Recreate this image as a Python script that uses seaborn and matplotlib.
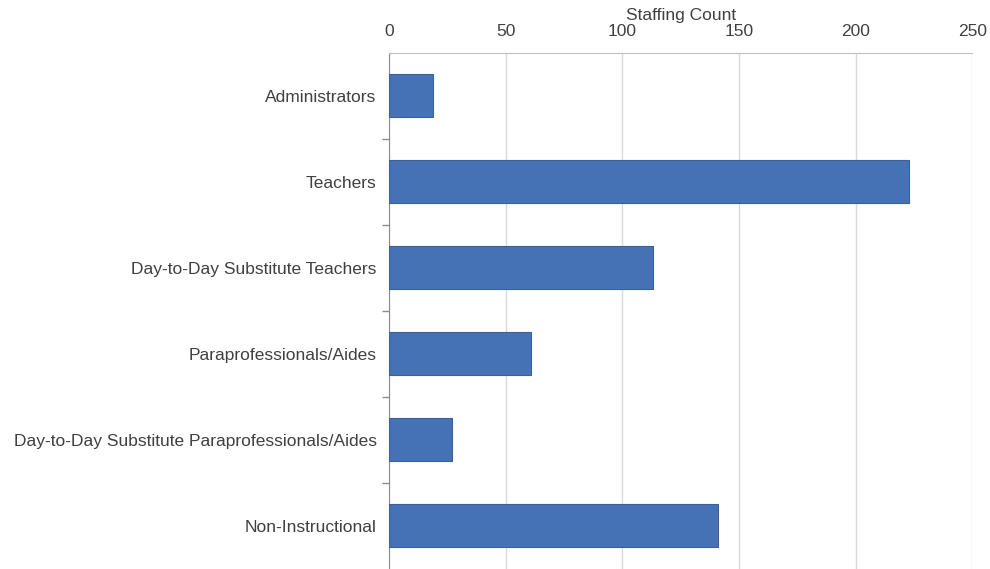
import numpy as np
import pandas as pd
import matplotlib
matplotlib.use("Agg")
import matplotlib.pyplot as plt
import seaborn as sns

categories = [
    "Administrators",
    "Teachers",
    "Day-to-Day Substitute Teachers",
    "Paraprofessionals/Aides",
    "Day-to-Day Substitute Paraprofessionals/Aides",
    "Non-Instructional",
]
counts = [19, 223, 113, 61, 27, 141]
x_ticks = [0, 50, 100, 150, 200, 250]

df = pd.DataFrame({"Category": categories, "Staffing Count": counts})

sns.set_style("white")
plt.rcParams["font.family"] = ["Liberation Sans", "DejaVu Sans"]

fig, ax = plt.subplots(figsize=(9.9, 5.69), dpi=100)
fig.subplots_adjust(left=0.393, right=0.982, top=0.907, bottom=0.0)

sns.barplot(data=df, y="Category", x="Staffing Count", color="#4472B4",
            saturation=1, width=0.5, edgecolor="#3A6199", linewidth=0.8,
            ax=ax, zorder=3)

ax.set_xlim(0, 250)
ax.set_ylim(5.5, -0.5)
ax.set_xticks(x_ticks)
ax.xaxis.tick_top()
ax.xaxis.set_label_position("top")
ax.set_xlabel("Staffing Count", fontsize=12.5, color="#404040", labelpad=3)
ax.set_ylabel("")
ax.tick_params(axis="x", length=0, labelsize=12.5, labelcolor="#404040", pad=10)
ax.tick_params(axis="y", which="major", left=False, length=0, labelsize=12.5,
               labelcolor="#404040", pad=9)
ax.set_yticks(np.arange(0.5, 5.5, 1.0), minor=True)
ax.tick_params(axis="y", which="minor", left=True, length=5, color="#8c8c8c", width=1)

ax.grid(axis="x", color="#d9d9d9", linewidth=1, zorder=0)
for s in ["right", "bottom"]:
    ax.spines[s].set_visible(False)
ax.spines["top"].set_color("#bfbfbf")
ax.spines["left"].set_color("#8c8c8c")

plt.savefig("out.png", dpi=100)
